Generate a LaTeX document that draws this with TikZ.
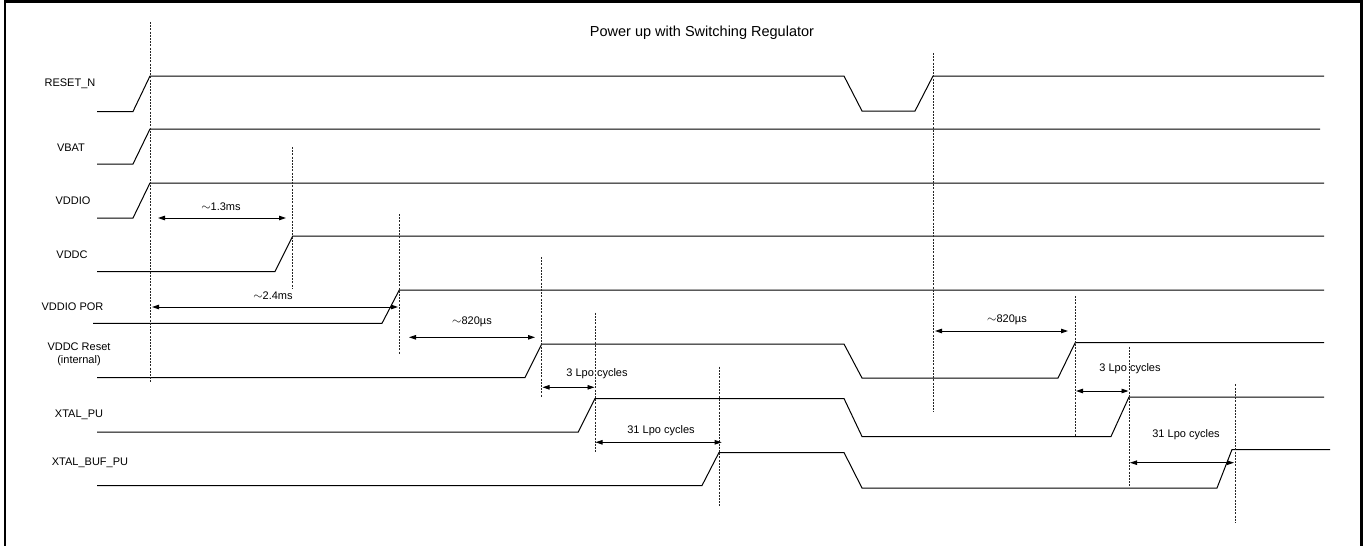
\documentclass[tikz,border=0pt]{standalone}
\usepackage{fontspec}
\setmainfont{Liberation Sans}
\usetikzlibrary{arrows.meta}
\newcommand{\tld}{{\fontsize{13}{13}\selectfont$\sim$}}
\begin{document}
\begin{tikzpicture}[x=1pt,y=-1pt,
  sig/.style={line width=1pt, draw=black, line join=miter},
  vline/.style={line width=0.8pt, draw=black!85, dash pattern=on 2pt off 1.2pt},
  dim/.style={line width=0.9pt, draw=black, {Triangle[length=7pt,width=4.5pt]}-{Triangle[length=7pt,width=4.5pt]}},
  lbl/.style={font=\fontsize{11}{13}\selectfont, inner sep=0pt},
  ttl/.style={font=\fontsize{14.5}{17}\selectfont, inner sep=0pt},
]
\useasboundingbox (0,0) rectangle (1366,546);
% frame (bottom edge lies below the page)
\draw[line width=2.6pt] (5,550) -- (5,1.3) -- (1361.5,1.3) -- (1361.5,550);

% title
\node[ttl] (title) at (702,32.5) {Power up with Switching Regulator};

% signal labels
\node[lbl] (lreset) at (70,84) {RESET\_N};
\node[lbl] (lvbat) at (71,148) {VBAT};
\node[lbl] (lvddio) at (73,201) {VDDIO};
\node[lbl] (lvddc) at (72,255) {VDDC};
\node[lbl] (lpor) at (72.5,307) {VDDIO POR};
\node[lbl, align=center] (lvrst) at (79,354) {VDDC Reset\\(internal)};
\node[lbl] (lxpu) at (79,415) {XTAL\_PU};
\node[lbl] (lxbuf) at (90,463) {XTAL\_BUF\_PU};

% waveforms
\draw[sig] (97,111.5) -- (133,111.5) -- (150,76) -- (844,76) -- (862,111) -- (915,111) -- (933,76) -- (1324,76);
\draw[sig] (97,164) -- (133,164) -- (150,129) -- (1320,129);
\draw[sig] (97,218) -- (133,218) -- (150,183) -- (1324,183);
\draw[sig] (97,271.5) -- (275,271.5) -- (292.7,236) -- (1324,236);
\draw[sig] (93,323.3) -- (382,323.3) -- (399.3,290) -- (1324,290);
\draw[sig] (97,377.5) -- (525,377.5) -- (541.7,344) -- (844,344) -- (862,378) -- (1058,378) -- (1075.3,342.5) -- (1324,342.5);
\draw[sig] (97,432) -- (578.3,432) -- (595,398.5) -- (844,398.5) -- (862,436.5) -- (1111,436.5) -- (1129,397) -- (1324,397);
\draw[sig] (97,485.5) -- (702,485.5) -- (719,452.5) -- (844,452.5) -- (862,488) -- (1217,488) -- (1232,449.5) -- (1330,449.5);

% dashed markers
\coordinate (d1t) at (150,22);     \coordinate (d1b) at (150,382);
\coordinate (d2t) at (292.7,147);  \coordinate (d2b) at (292.7,288);
\coordinate (d3t) at (399.3,214);  \coordinate (d3b) at (399.3,354);
\coordinate (d4t) at (541.7,257);  \coordinate (d4b) at (541.7,397);
\coordinate (d5t) at (595,312.7);  \coordinate (d5b) at (595,452);
\coordinate (d6t) at (719,366.7);  \coordinate (d6b) at (719,505.7);
\coordinate (d7t) at (933.3,53);   \coordinate (d7b) at (933.3,412);
\coordinate (d8t) at (1075.3,296); \coordinate (d8b) at (1075.3,436);
\coordinate (d9t) at (1129,346.7); \coordinate (d9b) at (1129,486.7);
\coordinate (d10t) at (1235.3,384.3); \coordinate (d10b) at (1235.3,523.3);
\foreach \i in {1,...,10} \draw[vline] (d\i t) -- (d\i b);

% dimension arrows
\coordinate (a1l) at (158,218);  \coordinate (a1r) at (286,218);
\draw[dim] (a1l) -- (a1r);
\node[lbl] (t1) at (221,207) {\tld1.3ms};

\coordinate (a2l) at (152,307);  \coordinate (a2r) at (398,307);
\draw[dim] (a2l) -- (a2r);
\node[lbl] (t2) at (273,296) {\tld2.4ms};

\coordinate (a3l) at (409,337.3);  \coordinate (a3r) at (535,337.3);
\draw[dim] (a3l) -- (a3r);
\node[lbl] (t3) at (472,322) {\tld820µs};

\coordinate (a4l) at (542.5,387.3);  \coordinate (a4r) at (594.5,387.3);
\draw[dim] (a4l) -- (a4r);
\node[lbl] (t4) at (597,374) {3 Lpo cycles};

\coordinate (a5l) at (595.5,442.3);  \coordinate (a5r) at (721.7,442.3);
\draw[dim] (a5l) -- (a5r);
\node[lbl] (t5) at (661,431) {31 Lpo cycles};

\coordinate (a6l) at (935,331);  \coordinate (a6r) at (1068,331);
\draw[dim] (a6l) -- (a6r);
\node[lbl] (t6) at (1007,320) {\tld820µs};

\coordinate (a7l) at (1076,391);  \coordinate (a7r) at (1128.5,391);
\draw[dim] (a7l) -- (a7r);
\node[lbl] (t7) at (1130,369) {3 Lpo cycles};

\coordinate (a8l) at (1130,462.7);  \coordinate (a8r) at (1234,462.7);
\draw[dim] (a8l) -- (a8r);
\node[lbl] (t8) at (1186,435) {31 Lpo cycles};
\end{tikzpicture}
\end{document}
